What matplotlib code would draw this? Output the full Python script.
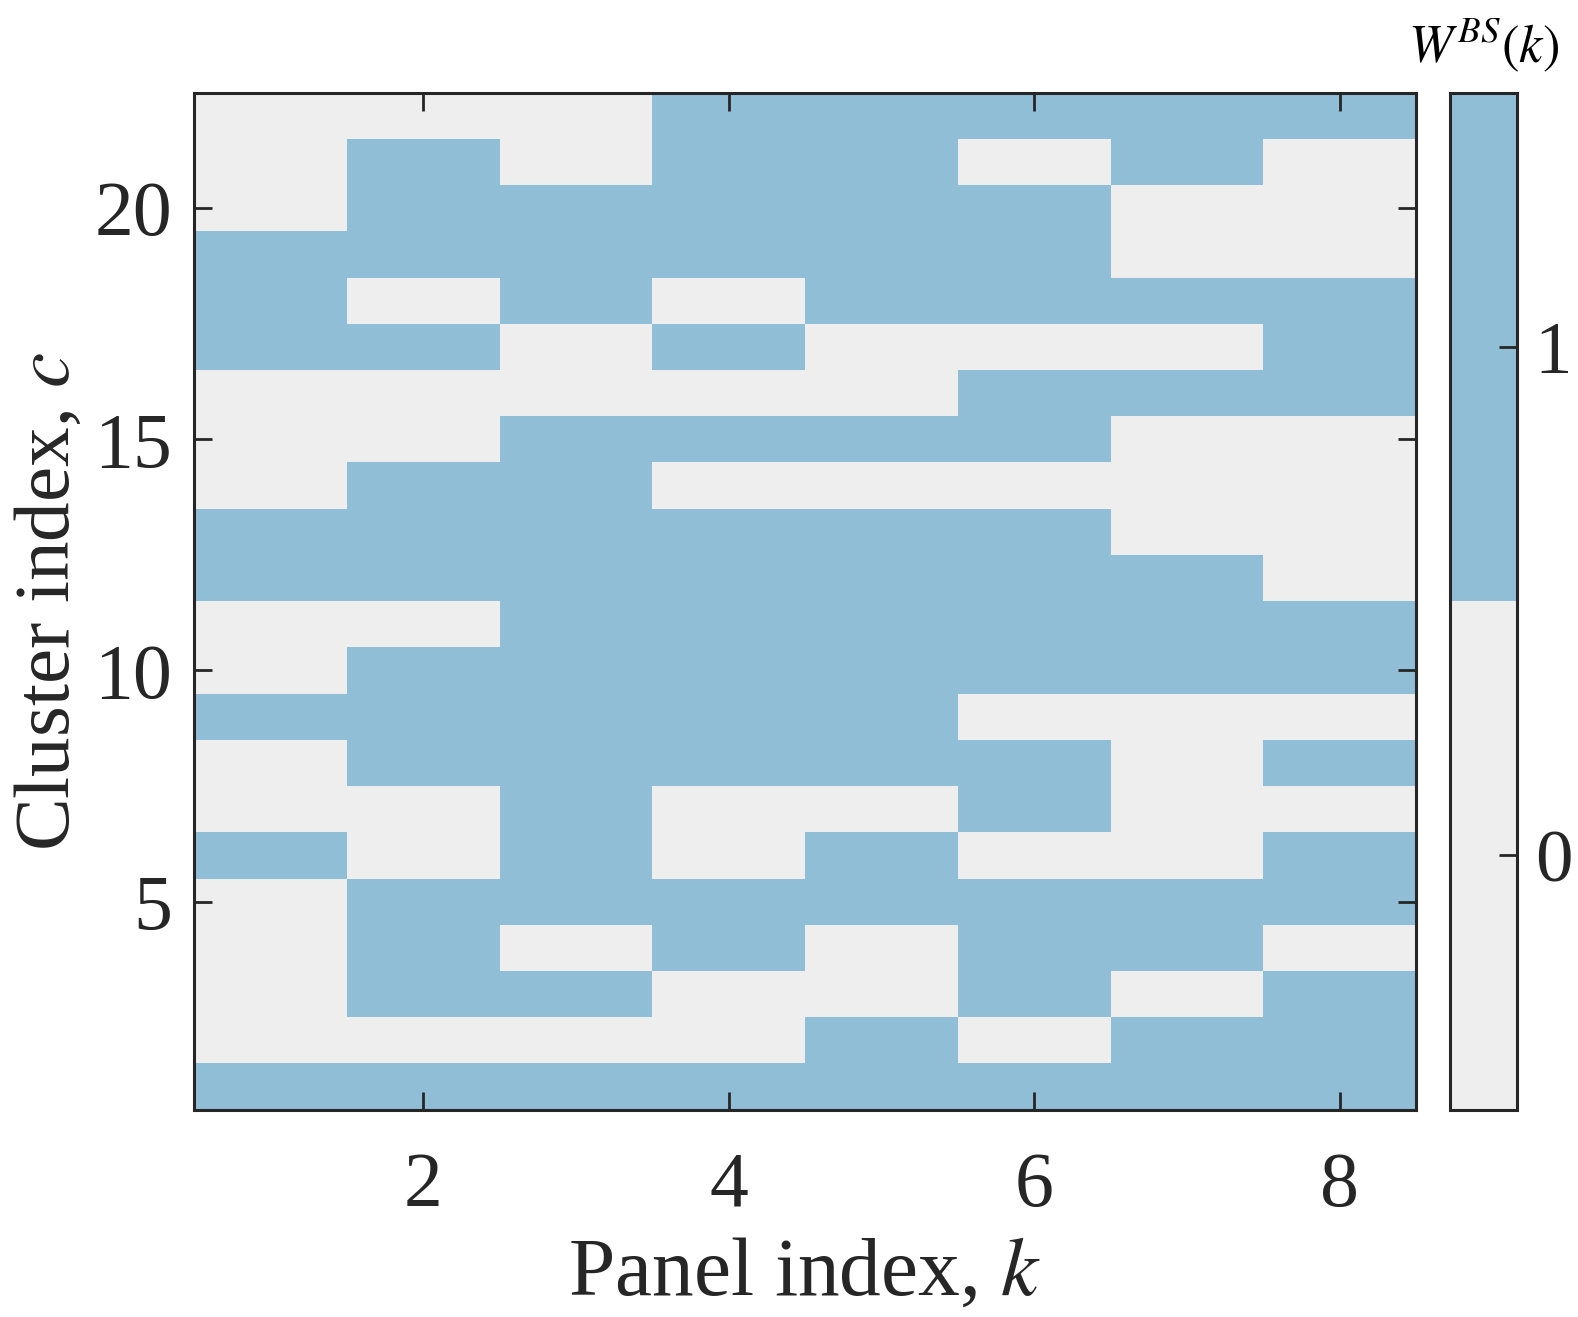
import numpy as np
import matplotlib
matplotlib.use('Agg')
import matplotlib.pyplot as plt
from matplotlib.colors import ListedColormap

plt.rcParams['font.family'] = ['Liberation Serif', 'DejaVu Serif']
plt.rcParams['mathtext.fontset'] = 'stix'

# panel index k = 1..8, cluster index c = 1..22
panels = np.arange(1, 9)
clusters = np.arange(1, 23)

# W^BS(k), one row per cluster c (c = 1 first)
W = [
    [1, 1, 1, 1, 1, 1, 1, 1],  # 1
    [0, 0, 0, 0, 1, 0, 1, 1],  # 2
    [0, 1, 1, 0, 0, 1, 0, 1],  # 3
    [0, 1, 0, 1, 0, 1, 1, 0],  # 4
    [0, 1, 1, 1, 1, 1, 1, 1],  # 5
    [1, 0, 1, 0, 1, 0, 0, 1],  # 6
    [0, 0, 1, 0, 0, 1, 0, 0],  # 7
    [0, 1, 1, 1, 1, 1, 0, 1],  # 8
    [1, 1, 1, 1, 1, 0, 0, 0],  # 9
    [0, 1, 1, 1, 1, 1, 1, 1],  # 10
    [0, 0, 1, 1, 1, 1, 1, 1],  # 11
    [1, 1, 1, 1, 1, 1, 1, 0],  # 12
    [1, 1, 1, 1, 1, 1, 0, 0],  # 13
    [0, 1, 1, 0, 0, 0, 0, 0],  # 14
    [0, 0, 1, 1, 1, 1, 0, 0],  # 15
    [0, 0, 0, 0, 0, 1, 1, 1],  # 16
    [1, 1, 0, 1, 0, 0, 0, 1],  # 17
    [1, 0, 1, 0, 1, 1, 1, 1],  # 18
    [1, 1, 1, 1, 1, 1, 0, 0],  # 19
    [0, 1, 1, 1, 1, 1, 0, 0],  # 20
    [0, 1, 0, 1, 1, 0, 1, 0],  # 21
    [0, 0, 0, 1, 1, 1, 1, 1],  # 22
]
W = np.array(W)

cmap = ListedColormap(['#eeeeee', '#8fbed6'])
edge = '#262626'

fig = plt.figure(figsize=(15.78, 13.17), dpi=100)
ax = fig.add_axes([0.1231, 0.1574, 0.7742, 0.7723])
cax = fig.add_axes([0.9190, 0.1574, 0.0421, 0.7723])

kk = np.append(panels - 0.5, panels[-1] + 0.5)
cc = np.append(clusters - 0.5, clusters[-1] + 0.5)
mesh = ax.pcolormesh(kk, cc, W, cmap=cmap, vmin=-0.5, vmax=1.5)

ax.set_xlim(0.5, 8.5)
ax.set_ylim(0.5, 22.5)
ax.set_xticks([2, 4, 6, 8])
ax.set_yticks([5, 10, 15, 20])
ax.tick_params(direction='in', length=13, width=2, colors=edge, labelsize=56,
               top=True, right=True, pad=16)
ax.tick_params(axis='x', pad=30)
for s in ax.spines.values():
    s.set_linewidth(2.2)
    s.set_color(edge)
ax.set_xlabel('Panel index, $k$', fontsize=60, color=edge, labelpad=10)
ax.set_ylabel('Cluster index, $c$', fontsize=57, color=edge, labelpad=6)

cb = fig.colorbar(mesh, cax=cax, ticks=[0, 1])
cb.outline.set_linewidth(2.2)
cb.outline.set_edgecolor(edge)
cax.tick_params(direction='in', length=13, width=2, colors=edge, labelsize=54, pad=13)
cax.set_title('$W^{BS}(k)$', fontsize=38, color='black', pad=22)

fig.savefig('out.png', dpi=100)
